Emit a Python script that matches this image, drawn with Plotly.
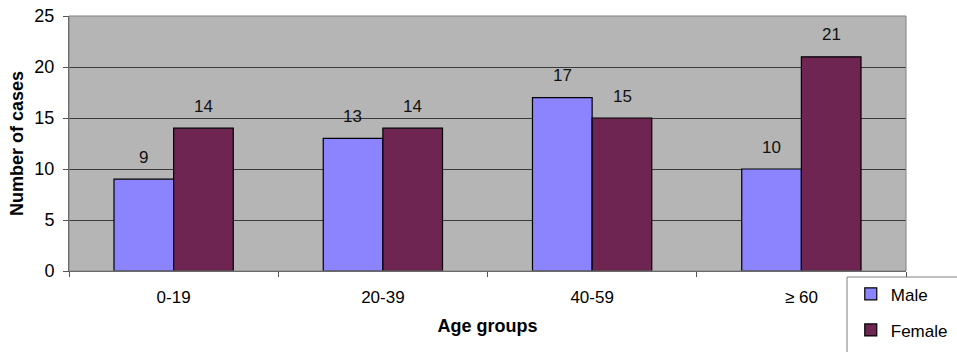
import plotly.graph_objects as go

categories = ["0-19", "20-39", "40-59", "≥ 60"]
male = [9, 13, 17, 10]
female = [14, 14, 15, 21]
series_names = ["Male", "Female"]
y_ticks = [0, 5, 10, 15, 20, 25]

male_color = "#8C84FF"
female_color = "#6E2552"
font_family = "Liberation Sans, Arial, sans-serif"

fig = go.Figure()
fig.add_trace(go.Bar(x=categories, y=male, name=series_names[0], legendgroup="m",
                     marker=dict(color=male_color, line=dict(color="#000000", width=1.2))))
fig.add_trace(go.Bar(x=categories, y=female, name=series_names[1], legendgroup="f",
                     marker=dict(color=female_color, line=dict(color="#000000", width=1.2))))

annotations = []
for c, v in zip(categories, male):
    annotations.append(dict(x=c, y=v, xref="x", yref="y", text=str(v), showarrow=False,
                            xshift=-30, yshift=22, yanchor="middle",
                            font=dict(size=17, color="#111111", family=font_family)))
for c, v in zip(categories, female):
    annotations.append(dict(x=c, y=v, xref="x", yref="y", text=str(v), showarrow=False,
                            xshift=30, yshift=22, yanchor="middle",
                            font=dict(size=17, color="#111111", family=font_family)))

fig.update_layout(
    width=957, height=352,
    margin=dict(l=69, r=51, t=16, b=81, autoexpand=False),
    paper_bgcolor="white",
    plot_bgcolor="#B5B5B5",
    barmode="group",
    bargap=0.43,
    bargroupgap=0,
    font=dict(family=font_family, size=17, color="#000000"),
    annotations=annotations,
    showlegend=True,
    legend=dict(xref="container", yref="container", x=0.889, y=0.215,
                xanchor="left", yanchor="top",
                bgcolor="rgba(0,0,0,0)", borderwidth=0,
                font=dict(size=17, family=font_family),
                traceorder="grouped", tracegroupgap=11,
                itemwidth=30),
    shapes=[dict(type="rect", xref="paper", yref="paper",
                 x0=(847 - 69) / 837, x1=(962 - 69) / 837,
                 y0=(271 - 277) / 255, y1=(271 - 360) / 255,
                 line=dict(color="#808080", width=1), fillcolor="white", layer="below")],
)
fig.update_xaxes(
    showline=True, linecolor="#555555", linewidth=1, mirror=False,
    ticks="outside", tickson="boundaries", ticklen=5, tickcolor="#555555",
    ticklabelstandoff=11,
    tickfont=dict(size=17, family=font_family),
    title=dict(text="<b>Age groups</b>", font=dict(size=18, family=font_family), standoff=12),
    showgrid=False,
)
fig.update_yaxes(
    range=[0, 25], tickvals=y_ticks, showline=True, linecolor="#555555", linewidth=1,
    ticks="outside", ticklen=5, tickcolor="#555555",
    ticklabelstandoff=5,
    tickfont=dict(size=18, family=font_family),
    showgrid=True, gridcolor="#3A3A3A", gridwidth=1,
    title=dict(text="<b>Number of cases</b>", font=dict(size=18, family=font_family), standoff=6),
    zeroline=False,
)
fig.add_shape(type="rect", xref="paper", yref="paper", x0=0, x1=1, y0=0, y1=1,
              line=dict(color="#808080", width=1), layer="above")

fig.write_html("out.html")
